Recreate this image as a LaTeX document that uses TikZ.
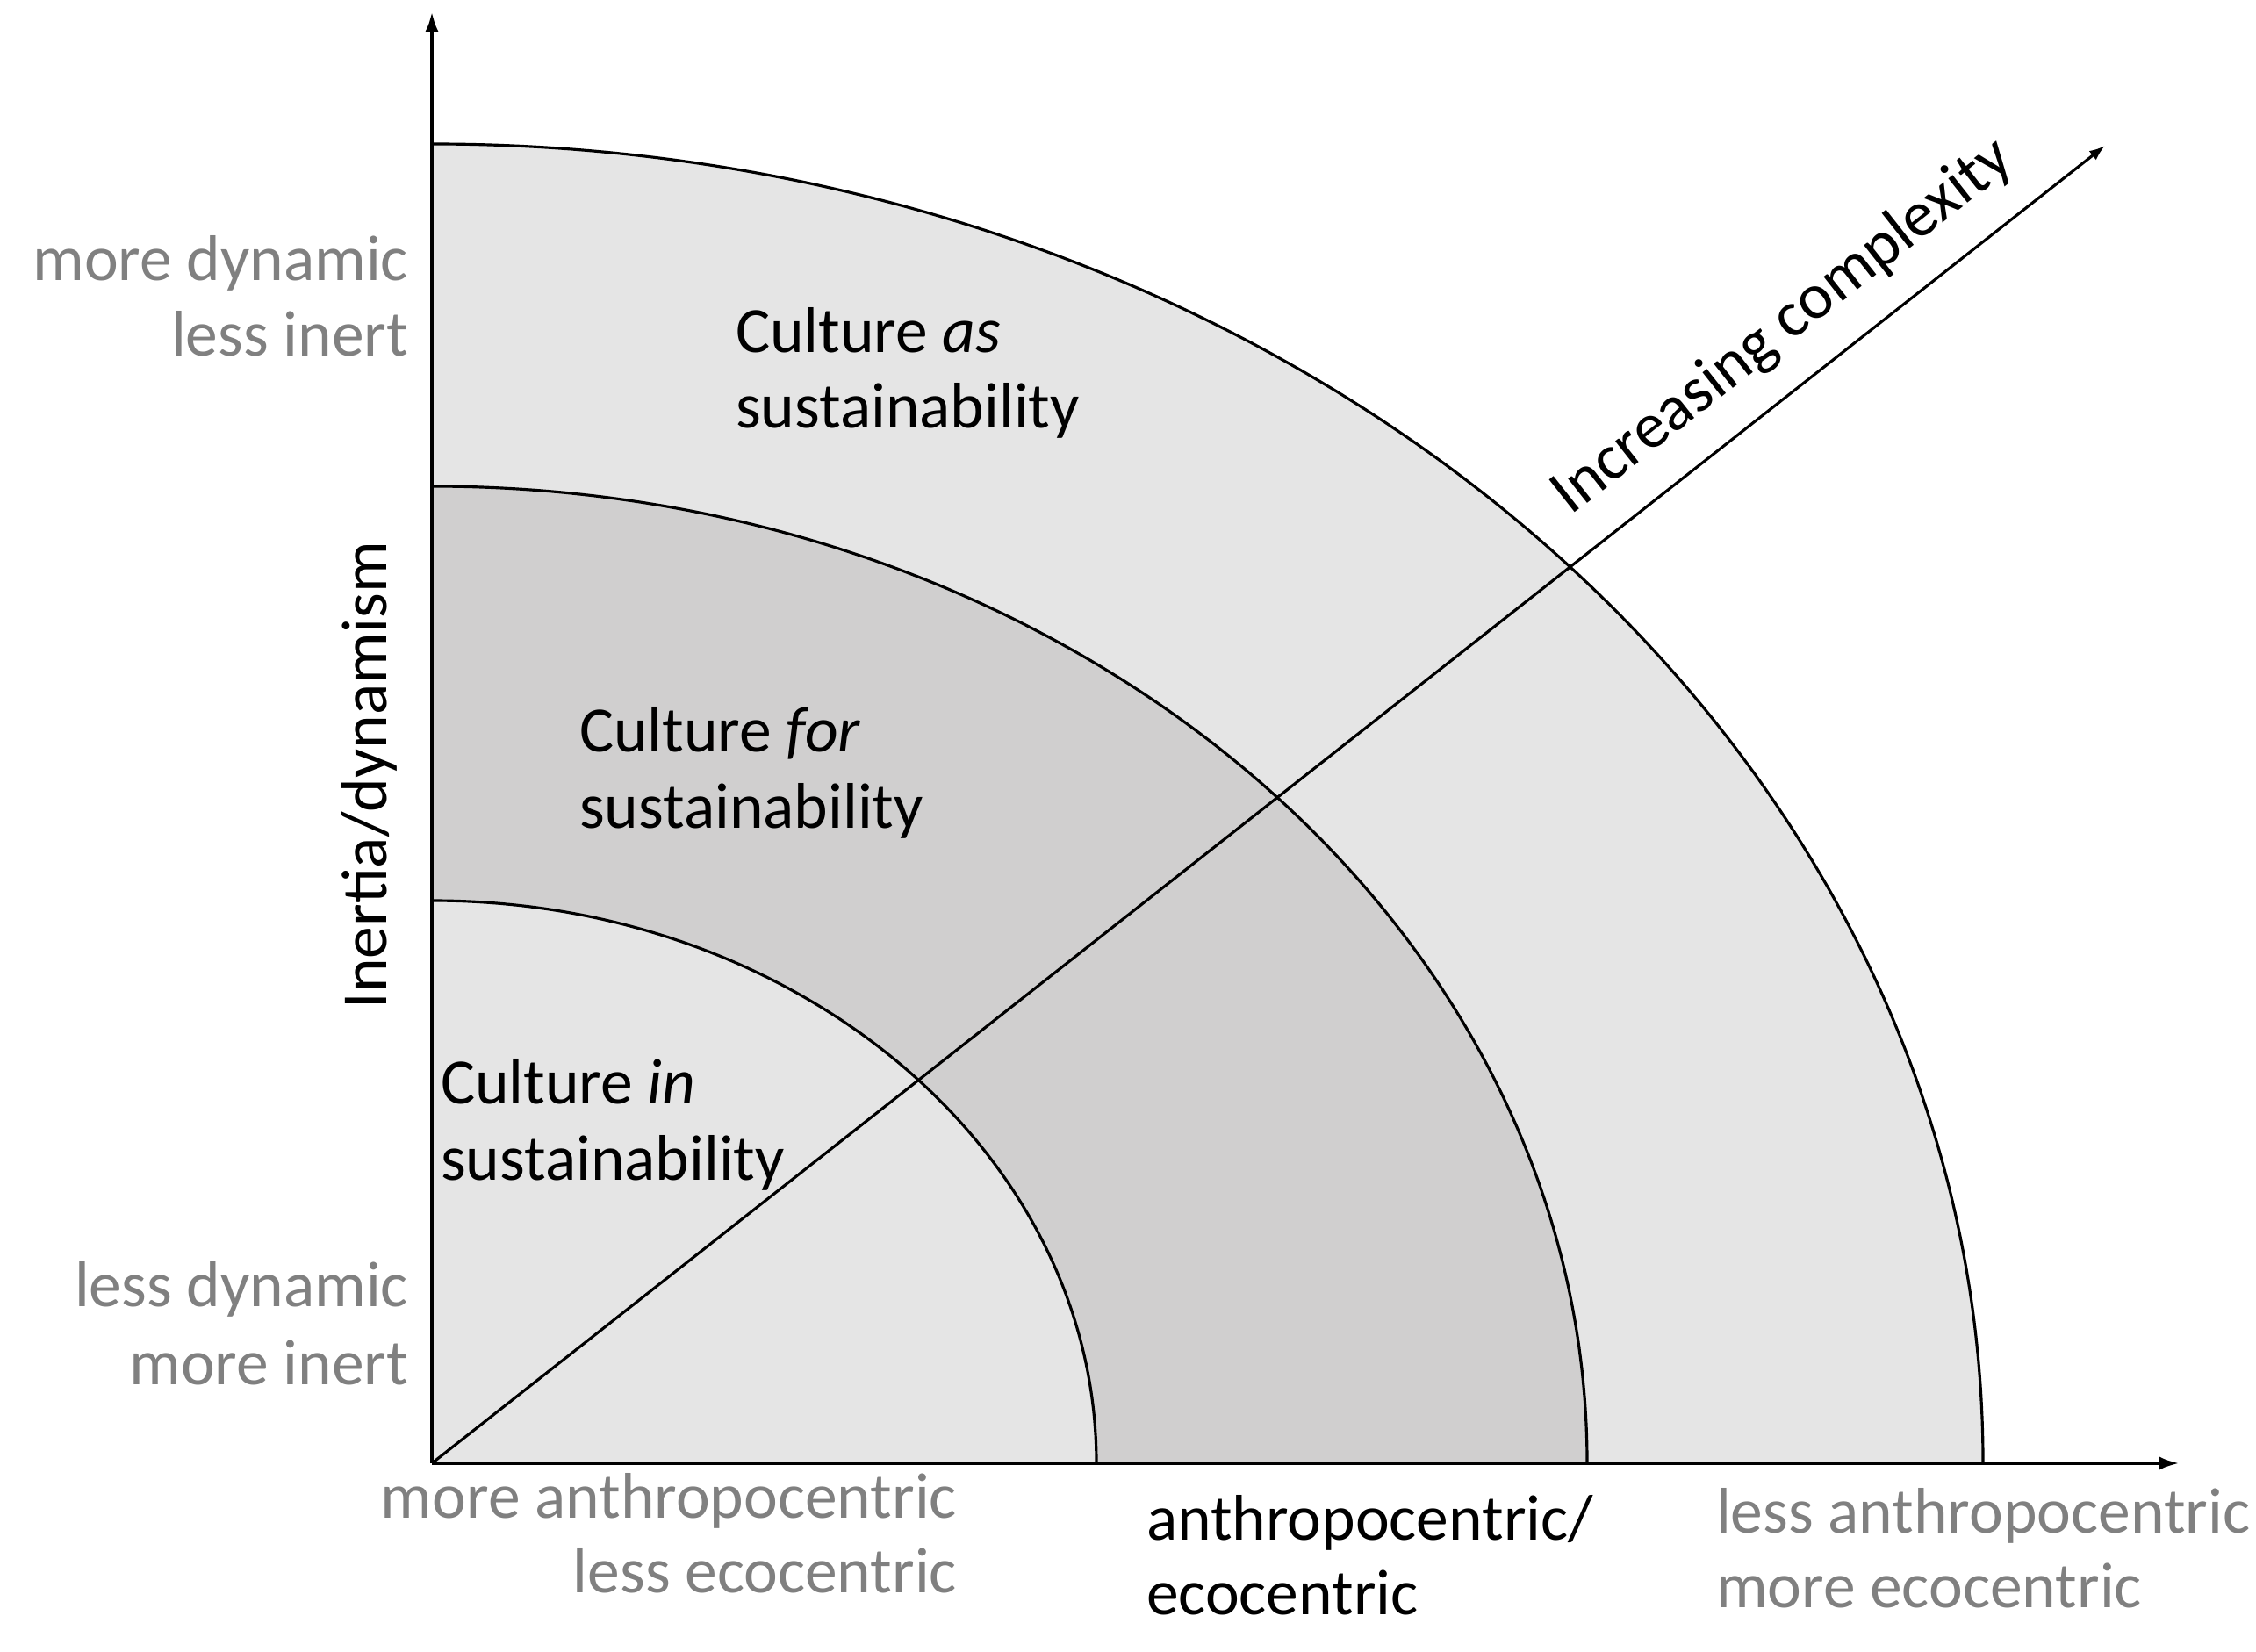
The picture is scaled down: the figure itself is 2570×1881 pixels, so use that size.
\documentclass[tikz,border=0pt]{standalone}
\usepackage{fontspec}
\setmainfont{Carlito}
\usetikzlibrary{arrows.meta}
\definecolor{bandlight}{RGB}{229,229,229}
\definecolor{banddark}{RGB}{208,207,207}
\definecolor{axisgray}{RGB}{128,128,128}
\begin{document}
\begin{tikzpicture}[x=0.01cm,y=0.01cm,
  lbl/.style={font=\fontsize{20.9}{24.6}\selectfont, inner sep=0pt, outer sep=0pt},
  axlbl/.style={lbl, text=axisgray},
  axisline/.style={line width=1.3pt, -{Latex[length=0.24cm,width=0.16cm]}},
  diagline/.style={line width=0.9pt, -{Latex[length=0.18cm,width=0.13cm]}},
  arcline/.style={line width=0.9pt}]
\useasboundingbox (0,0) rectangle (2570,1881);
\coordinate (O) at (492,214);
\coordinate (ytip) at (492,1868);
\coordinate (xtip) at (2483,214);
\coordinate (dtip) at (2398,1715);
% bands
\fill[bandlight] (O) -- (2259,214) arc[start angle=0,end angle=90,x radius=1767,y radius=1503] -- cycle;
\fill[banddark] (O) -- (1808,214) arc[start angle=0,end angle=90,x radius=1316,y radius=1113] -- cycle;
\fill[bandlight] (O) -- (1249,214) arc[start angle=0,end angle=90,x radius=757,y radius=641] -- cycle;
\draw[arcline] (2259,214) arc[start angle=0,end angle=90,x radius=1767,y radius=1503];
\draw[arcline] (1808,214) arc[start angle=0,end angle=90,x radius=1316,y radius=1113];
\draw[arcline] (1249,214) arc[start angle=0,end angle=90,x radius=757,y radius=641];
% diagonal
\draw[diagline] (O) -- (dtip);
\node[lbl, rotate=38.22, anchor=base] (cplx) at (2043,1493) {Increasing complexity};
% axes
\draw[axisline] (O) -- (ytip);
\draw[axisline] (O) -- (xtip);
% y labels
\node[axlbl, anchor=base east] (mdyn) at (465,1561) {more dynamic};
\node[axlbl, anchor=base east] (linert) at (465,1475) {less inert};
\node[axlbl, anchor=base east] (ldyn) at (465,393) {less dynamic};
\node[axlbl, anchor=base east] (minert) at (465,304) {more inert};
\node[lbl, rotate=90, anchor=base] (ydesc) at (440,998) {Inertia/dynamism};
% x labels
\node[axlbl, anchor=base east] (manthro) at (1090,152) {more anthropocentric};
\node[axlbl, anchor=base east] (leco) at (1090,67) {less ecocentric};
\node[lbl, anchor=base west] (mid1) at (1306,127) {anthropocentric/};
\node[lbl, anchor=base west] (mid2) at (1306,42) {ecocentric};
\node[axlbl, anchor=base west] (lanthro) at (1955,135) {less anthropocentric};
\node[axlbl, anchor=base west] (meco) at (1955,50) {more ecocentric};
% region labels
\node[lbl, anchor=base west] (as1) at (838,1479) {Culture \textit{as}};
\node[lbl, anchor=base west] (as2) at (838,1393) {sustainability};
\node[lbl, anchor=base west] (for1) at (660,1024) {Culture \textit{for}};
\node[lbl, anchor=base west] (for2) at (660,937) {sustainability};
\node[lbl, anchor=base west] (in1) at (502,624) {Culture \textit{in}};
\node[lbl, anchor=base west] (in2) at (502,537) {sustainability};
\end{tikzpicture}
\end{document}
